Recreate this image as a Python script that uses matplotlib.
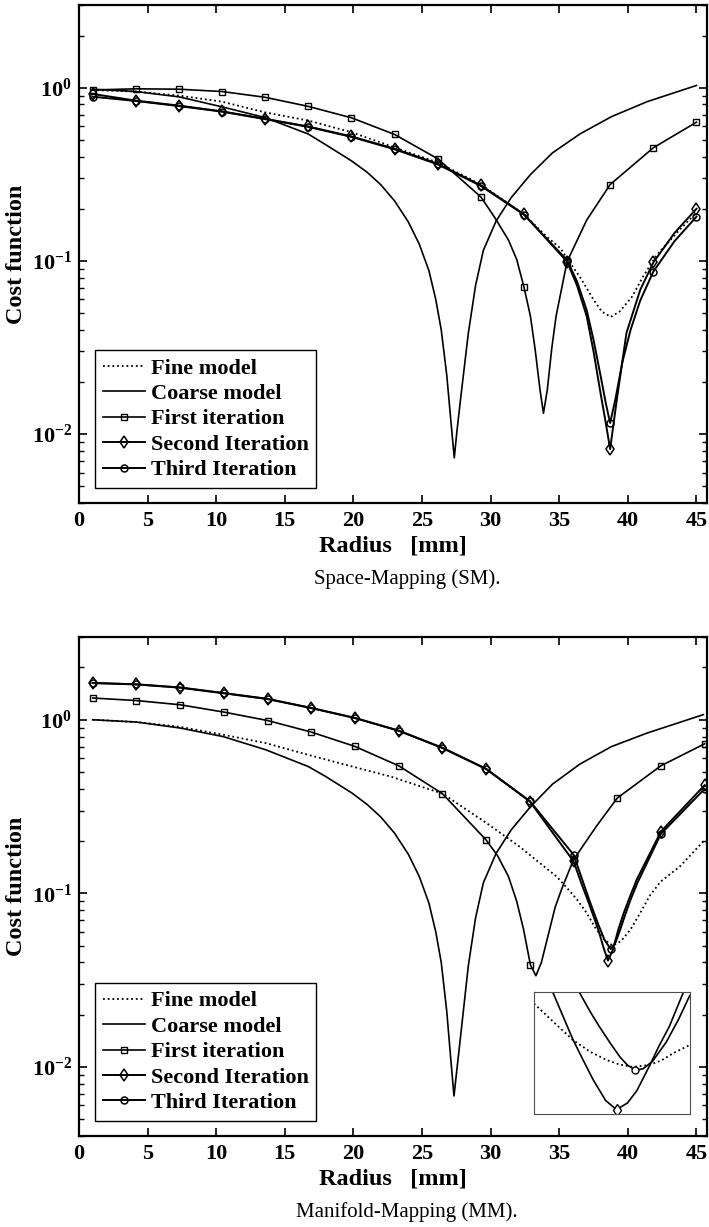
import matplotlib
matplotlib.use('Agg')
import matplotlib.pyplot as plt

plt.rcParams['font.family'] = 'Liberation Serif'
plt.rcParams['font.weight'] = 'bold'
plt.rcParams['axes.labelweight'] = 'bold'
plt.rcParams['mathtext.fontset'] = 'custom'
plt.rcParams['mathtext.rm'] = 'Liberation Serif:bold'
plt.rcParams['mathtext.bf'] = 'Liberation Serif:bold'
plt.rcParams['mathtext.it'] = 'Liberation Serif:bold'
plt.rcParams['mathtext.default'] = 'rm'

labels = ['Fine model', 'Coarse model', 'First iteration', 'Second Iteration', 'Third Iteration']
xticks = [0, 5, 10, 15, 20, 25, 30, 35, 40, 45]
yticks = [1e-2, 1e-1, 1e0]
ytick_labels = [r'$10^{-2}$', r'$10^{-1}$', r'$10^{0}$']

# ---- Space-Mapping (top) ----
sm_marks = [1.0, 4.14, 7.29, 10.43, 13.57, 16.71, 19.86, 23.0, 26.14, 29.29, 32.43, 35.57, 38.71, 41.86, 45.0]

sm_fine_x = [1.0, 4.14, 7.29, 10.43, 13.57, 16.71, 19.86, 23.0, 26.14, 29.29, 32.43, 34.0, 35.1, 35.8, 36.5,
             37.5, 38.1, 38.75, 39.4, 40.3, 41.1, 42.1, 43.8, 45.0]
sm_fine_y = [0.97, 0.95, 0.90, 0.83, 0.72, 0.646, 0.553, 0.452, 0.37, 0.276, 0.186, 0.14, 0.118, 0.097, 0.081,
             0.0597, 0.051, 0.0475, 0.051, 0.062, 0.081, 0.108, 0.152, 0.19]

sm_coarse_x = [1.0, 4.14, 7.29, 10.43, 13.57, 16.71, 18.05, 19.86, 21.0, 22.0, 23.0, 24.0, 24.8, 25.5, 26.0,
               26.4, 26.8, 27.1, 27.35, 27.55, 27.85, 28.37, 28.9, 29.47, 30.4, 31.5, 32.9, 34.5, 36.5, 38.8,
               41.4, 45.0]
sm_coarse_y = [0.98, 0.95, 0.885, 0.775, 0.672, 0.54, 0.465, 0.378, 0.325, 0.275, 0.222, 0.168, 0.125, 0.088, 0.06,
               0.04, 0.022, 0.012, 0.0073, 0.0105, 0.017, 0.038, 0.072, 0.115, 0.17, 0.232, 0.315, 0.42, 0.54,
               0.68, 0.83, 1.03]

sm_first_x = [1.0, 4.14, 7.29, 10.43, 13.57, 16.71, 19.86, 23.0, 26.14, 29.29, 30.3, 31.3, 31.9, 32.43, 32.9,
              33.24, 33.6, 33.85, 34.13, 34.45, 34.77, 35.57, 37.0, 38.71, 41.86, 45.0]
sm_first_y = [0.97, 0.985, 0.98, 0.95, 0.88, 0.78, 0.67, 0.537, 0.389, 0.234, 0.178, 0.132, 0.102, 0.0706, 0.048,
              0.031, 0.018, 0.0132, 0.018, 0.031, 0.048, 0.099, 0.172, 0.276, 0.45, 0.632]

sm_second_x = [1.0, 4.14, 7.29, 10.43, 13.57, 16.71, 19.86, 23.0, 26.14, 29.29, 32.43, 35.57, 36.3, 37.0, 37.5,
               37.97, 38.4, 38.71, 39.2, 39.9, 40.9, 41.86, 43.4, 45.0]
sm_second_y = [0.92, 0.842, 0.788, 0.73, 0.661, 0.597, 0.523, 0.444, 0.364, 0.273, 0.186, 0.099, 0.072, 0.048, 0.03,
               0.018, 0.0115, 0.0082, 0.0159, 0.0384, 0.068, 0.098, 0.145, 0.2]

sm_third_x = [1.0, 4.14, 7.29, 10.43, 13.57, 16.71, 19.86, 23.0, 26.14, 29.29, 32.43, 35.57, 36.3, 37.0, 37.5,
              38.0, 38.4, 38.71, 39.1, 39.6, 40.2, 40.9, 41.86, 43.4, 45.0]
sm_third_y = [0.887, 0.838, 0.783, 0.727, 0.658, 0.594, 0.52, 0.441, 0.361, 0.271, 0.185, 0.101, 0.076, 0.052, 0.035,
              0.022, 0.015, 0.0116, 0.016, 0.026, 0.04, 0.059, 0.0868, 0.13, 0.18]

# ---- Manifold-Mapping (bottom) ----
mm_first_marks = [1.0, 4.19, 7.37, 10.56, 13.74, 16.93, 20.11, 23.3, 26.49, 29.67, 32.9, 36.04, 39.23, 42.41, 45.6]
mm_second_marks = [1.0, 4.19, 7.37, 10.56, 13.74, 16.93, 20.11, 23.3, 26.49, 29.67, 32.86, 36.04, 38.55, 42.41, 45.6]
mm_third_marks = [1.0, 4.19, 7.37, 10.56, 13.74, 16.93, 20.11, 23.3, 26.49, 29.67, 32.86, 36.04, 38.75, 42.41, 45.6]

mm_fine_x = [1.0, 4.19, 7.37, 10.5, 13.6, 16.7, 19.9, 22.7, 26.5, 29.7, 32.1, 34.8, 35.5, 36.3, 37.0, 37.7,
             38.3, 38.9, 39.5, 40.2, 40.9, 41.6, 42.4, 43.8, 45.6]
mm_fine_y = [1.0, 0.97, 0.91, 0.82, 0.734, 0.628, 0.538, 0.471, 0.375, 0.254, 0.186, 0.125, 0.109, 0.092, 0.077, 0.062,
             0.054, 0.05, 0.053, 0.062, 0.077, 0.097, 0.117, 0.143, 0.203]

mm_coarse_x = [1.0, 4.19, 7.37, 10.5, 13.6, 16.7, 18.0, 19.9, 21.0, 22.0, 23.0, 24.0, 24.8, 25.5, 26.0, 26.4,
               26.8, 27.1, 27.33, 27.55, 27.85, 28.37, 28.9, 29.47, 30.4, 31.5, 32.9, 34.5, 36.5, 38.8, 41.4, 45.5]
mm_coarse_y = [1.0, 0.97, 0.896, 0.80, 0.672, 0.538, 0.47, 0.378, 0.325, 0.275, 0.222, 0.168, 0.125, 0.088, 0.06,
               0.04, 0.021, 0.011, 0.0068, 0.0098, 0.016, 0.038, 0.072, 0.115, 0.17, 0.232, 0.315, 0.425, 0.555,
               0.70, 0.838, 1.07]

mm_first_x = [1.0, 4.19, 7.37, 10.56, 13.74, 16.93, 20.11, 23.3, 26.49, 29.67, 30.5, 31.3, 31.9, 32.4, 32.9,
              33.3, 33.7, 34.3, 34.7, 35.2, 36.04, 37.7, 39.23, 42.41, 45.6]
mm_first_y = [1.334, 1.29, 1.22, 1.107, 0.99, 0.849, 0.702, 0.543, 0.375, 0.203, 0.165, 0.125, 0.09, 0.062, 0.0387,
              0.0335, 0.04, 0.062, 0.083, 0.107, 0.156, 0.243, 0.354, 0.543, 0.727]

mm_second_x = [1.0, 4.19, 7.37, 10.56, 13.74, 16.93, 20.11, 23.3, 26.49, 29.67, 32.86, 36.04, 36.6, 37.2, 37.85,
               38.25, 38.55, 38.9, 39.3, 39.7, 40.16, 40.65, 42.41, 45.6]
mm_second_y = [1.627, 1.598, 1.53, 1.42, 1.316, 1.167, 1.022, 0.864, 0.687, 0.52, 0.338, 0.153, 0.115, 0.086, 0.0616,
               0.048, 0.041, 0.047, 0.0616, 0.077, 0.096, 0.12, 0.227, 0.42]

mm_third_x = [1.0, 4.19, 7.37, 10.56, 13.74, 16.93, 20.11, 23.3, 26.49, 29.67, 32.86, 36.04, 36.6, 37.2, 37.85,
              38.3, 38.75, 39.1, 39.45, 39.8, 40.2, 40.7, 42.41, 45.6]
mm_third_y = [1.63, 1.6, 1.535, 1.425, 1.32, 1.17, 1.025, 0.866, 0.69, 0.522, 0.34, 0.167, 0.125, 0.091, 0.066,
              0.054, 0.0477, 0.052, 0.062, 0.075, 0.092, 0.115, 0.22, 0.40]

# zoomed detail of the MM minimum (inset, own normalised units)
inset_fine_u = [0.0, 0.12, 0.25, 0.36, 0.465, 0.55, 0.636, 0.743, 0.82, 0.893, 1.0]
inset_fine_w = [0.905, 0.76, 0.606, 0.51, 0.443, 0.405, 0.385, 0.402, 0.44, 0.497, 0.565]
inset_second_u = [0.12, 0.19, 0.25, 0.32, 0.38, 0.46, 0.53, 0.60, 0.66, 0.74, 0.80, 0.87, 0.96]
inset_second_w = [1.0, 0.79, 0.61, 0.43, 0.28, 0.11, 0.035, 0.09, 0.19, 0.39, 0.55, 0.72, 1.0]
inset_third_u = [0.29, 0.36, 0.42, 0.49, 0.55, 0.60, 0.65, 0.70, 0.76, 0.85, 0.93, 1.0]
inset_third_w = [1.0, 0.84, 0.715, 0.58, 0.47, 0.40, 0.36, 0.37, 0.43, 0.59, 0.78, 0.97]

LW = 1.2
LW2 = 1.4
DOT = (0, (1, 1.6))


def curve(ax, x, y, marks, **kw):
    idx = [i for i, v in enumerate(x) if v in marks]
    return ax.plot(x, y, markevery=idx, **kw)[0]


def panel(ax, fine, coarse, first, second, third, caption, cap_y):
    h = []
    h.append(ax.plot(fine[0], fine[1], color='k', lw=1.3, linestyle=DOT)[0])
    h.append(ax.plot(coarse[0], coarse[1], color='k', lw=LW)[0])
    h.append(curve(ax, first[0], first[1], first[2], color='k', lw=LW, marker='s', ms=5, mfc='none', mew=1.0))
    h.append(curve(ax, second[0], second[1], second[2], color='k', lw=LW2, marker='d', ms=6, mfc='none', mew=1.1))
    h.append(curve(ax, third[0], third[1], third[2], color='k', lw=LW2, marker='o', ms=5, mfc='none', mew=1.1))

    ax.set_yscale('log')
    ax.set_xlim(0, 45.77)
    ax.set_ylim(0.004, 3.0)
    ax.set_xticks(xticks)
    ax.set_xticklabels([str(t) for t in xticks])
    ax.set_yticks(yticks)
    ax.set_yticklabels(ytick_labels)
    ax.tick_params(which='both', direction='in', top=True, right=True, labelsize=16)
    ax.tick_params(which='major', length=6, width=1.2)
    ax.tick_params(which='minor', length=3.5, width=1.0)
    ax.tick_params(axis='x', pad=6)
    ax.tick_params(axis='y', pad=5)
    for s in ax.spines.values():
        s.set_linewidth(1.6)

    ax.set_xlabel('Radius   [mm]', fontsize=17.5, fontweight='bold')
    ax.xaxis.label.set_va('center')
    ax.xaxis.set_label_coords(0.5, -0.087)
    ax.set_ylabel('Cost function', fontsize=17.5, fontweight='bold')
    ax.yaxis.label.set_va('center')
    ax.yaxis.set_label_coords(-0.099, 0.5)

    leg = ax.legend(h, labels, loc='lower left', bbox_to_anchor=(0.0255, 0.03), borderaxespad=0,
                    fancybox=False, edgecolor='black', framealpha=1, fontsize=16, handlelength=1.9,
                    handletextpad=0.25, labelspacing=0.22, borderpad=0.35)
    leg.get_frame().set_linewidth(1.0)

    ax.figure.text(407 / 709, cap_y, caption, ha='center', va='center', fontsize=15, fontweight='normal')


fig = plt.figure(figsize=(7.09, 12.27), dpi=100)
ax1 = fig.add_axes([0.1114, 0.590, 0.8858, 0.4059])
ax2 = fig.add_axes([0.1114, 0.0742, 0.8858, 0.4067])

panel(ax1, (sm_fine_x, sm_fine_y), (sm_coarse_x, sm_coarse_y),
      (sm_first_x, sm_first_y, sm_marks), (sm_second_x, sm_second_y, sm_marks),
      (sm_third_x, sm_third_y, sm_marks), 'Space-Mapping (SM).', 1 - 579 / 1227)
panel(ax2, (mm_fine_x, mm_fine_y), (mm_coarse_x, mm_coarse_y),
      (mm_first_x, mm_first_y, mm_first_marks), (mm_second_x, mm_second_y, mm_second_marks),
      (mm_third_x, mm_third_y, mm_third_marks), 'Manifold-Mapping (MM).', 1 - 1212 / 1227)

# inset
axi = ax2.inset_axes([0.7245, 0.0441, 0.248, 0.2445])
axi.plot(inset_fine_u, inset_fine_w, color='k', lw=1.3, linestyle=DOT)
axi.plot(inset_second_u, inset_second_w, color='k', lw=LW, marker='d', ms=6, mfc='white', mew=1.0,
         markevery=[6])
axi.plot(inset_third_u, inset_third_w, color='k', lw=LW, marker='o', ms=5, mfc='white', mew=1.0,
         markevery=[6])
axi.set_xlim(0, 1)
axi.set_ylim(0, 1)
axi.set_xticks([])
axi.set_yticks([])
for s in axi.spines.values():
    s.set_linewidth(0.8)
    s.set_color('0.3')

fig.savefig('out.png', dpi=100)
